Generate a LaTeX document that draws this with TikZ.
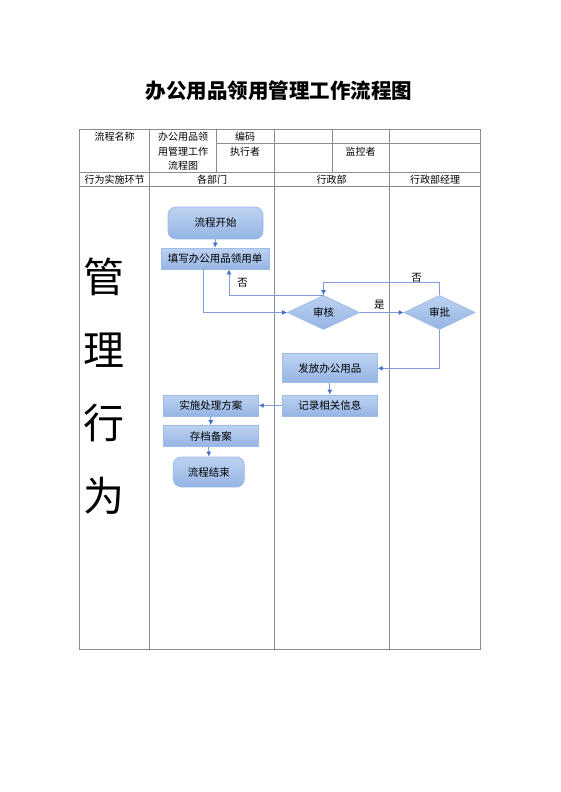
\documentclass[tikz,border=0pt]{standalone}
\usepackage{fontspec}
\setmainfont{Noto Sans CJK SC}
\usetikzlibrary{shapes.geometric,arrows.meta}
\definecolor{gridc}{HTML}{8C8C8C}
\definecolor{boxtop}{HTML}{BDD2F1}
\definecolor{boxbot}{HTML}{95B4E3}
\definecolor{boxedge}{HTML}{9EBCE8}
\definecolor{linec}{HTML}{7E9ED8}
\definecolor{arrc}{HTML}{3F6FCC}
\tikzset{
  grid/.style={draw=gridc,line width=0.9pt},
  celltxt/.style={font=\fontsize{10}{12}\selectfont,inner sep=0pt,align=center},
  bigtxt/.style={font=\fontsize{41}{41}\selectfont,inner sep=0pt},
  procbox/.style={rectangle,draw=boxedge,line width=0.8pt,top color=boxtop,bottom color=boxbot,
     font=\fontsize{10.5}{12}\selectfont,inner sep=0pt,anchor=center},
  termbox/.style={procbox,rounded corners=8pt},
  decbox/.style={diamond,draw=boxedge,line width=0.8pt,top color=boxtop,bottom color=boxbot,
     font=\fontsize{10.5}{12}\selectfont,inner sep=0pt,shape aspect=2.1},
  conn/.style={draw=linec,line width=0.9pt,-{Latex[length=5pt,width=5pt,color=arrc]}},
  lbl/.style={font=\fontsize{10.5}{12}\selectfont,inner sep=0pt},
}
\begin{document}
\begin{tikzpicture}[x=1pt,y=-1pt]
\useasboundingbox (0,0) rectangle (560,792);
% title
\node[font=\fontsize{20.5}{22}\selectfont\bfseries,inner sep=0pt] (title) at (279,91) {办公用品领用管理工作流程图};
% table
\draw[grid] (79.5,129) rectangle (480.5,649);
\draw[grid] (216.5,143) -- (480.5,143);
\draw[grid] (79.5,172) -- (480.5,172);
\draw[grid] (79.5,186) -- (480.5,186);
\draw[grid] (149.5,129) -- (149.5,649);
\draw[grid] (216.5,129) -- (216.5,172);
\draw[grid] (274,129) -- (274,649);
\draw[grid] (332,129) -- (332,172);
\draw[grid] (389,129) -- (389,649);
% header texts
\node[celltxt] (h1) at (114.5,136.5) {流程名称};
\node[celltxt] (h2a) at (183,136.5) {办公用品领};
\node[celltxt] (h2b) at (183,151.5) {用管理工作};
\node[celltxt] (h2c) at (183,165.5) {流程图};
\node[celltxt] (h3) at (245,136.5) {编码};
\node[celltxt] (h4) at (245,151.5) {执行者};
\node[celltxt] (h5) at (360.5,151.5) {监控者};
\node[celltxt] (r1) at (114.5,179.5) {行为实施环节};
\node[celltxt] (r2) at (212,179.5) {各部门};
\node[celltxt] (r3) at (331.5,179.5) {行政部};
\node[celltxt] (r4) at (435,179.5) {行政部经理};
% vertical big text
\node[bigtxt] (g1) at (104,277) {管};
\node[bigtxt] (g2) at (104,350) {理};
\node[bigtxt] (g3) at (104,423) {行};
\node[bigtxt] (g4) at (104,496) {为};
% flow nodes
\node[termbox,minimum width=95pt,minimum height=32pt] (start) at (215.5,223) {流程开始};
\node[procbox,minimum width=108pt,minimum height=21pt] (fill) at (215,258.5) {填写办公用品领用单};
\node[decbox,minimum width=72pt,minimum height=34pt] (shenhe) at (323.5,312.5) {审核};
\node[decbox,minimum width=71pt,minimum height=34pt] (shenpi) at (439.5,312.5) {审批};
\node[procbox,minimum width=95pt,minimum height=29pt] (fafang) at (329.8,368.3) {发放办公用品};
\node[procbox,minimum width=95pt,minimum height=21pt] (jilu) at (329.8,405.5) {记录相关信息};
\node[procbox,minimum width=95pt,minimum height=21pt] (shishi) at (210.8,405.5) {实施处理方案};
\node[procbox,minimum width=95pt,minimum height=21pt] (cundang) at (210.8,436) {存档备案};
\node[termbox,minimum width=71pt,minimum height=30pt] (end) at (208.8,472) {流程结束};
% connectors
\draw[conn] (start.south) -- (fill.north);
\draw[conn] ([xshift=-12pt]fill.south) |- (shenhe.west);
\draw[conn] (shenhe.north) -| ([xshift=14pt]fill.south);
\node[lbl] (no1) at (242.7,283.3) {否};
\draw[conn] (shenhe.east) -- (shenpi.west);
\node[lbl] (yes) at (379.3,305) {是};
\draw[conn] (shenpi.north) -- ++(0,-13) -| (shenhe.north);
\node[lbl] (no2) at (416.7,277.7) {否};
\draw[conn] (shenpi.south) |- (fafang.east);
\draw[conn] (fafang.south) -- (jilu.north);
\draw[conn] (jilu.west) -- (shishi.east);
\draw[conn] (shishi.south) -- (cundang.north);
\draw[conn] (cundang.south -| end.north) -- (end.north);
\end{tikzpicture}
\end{document}
